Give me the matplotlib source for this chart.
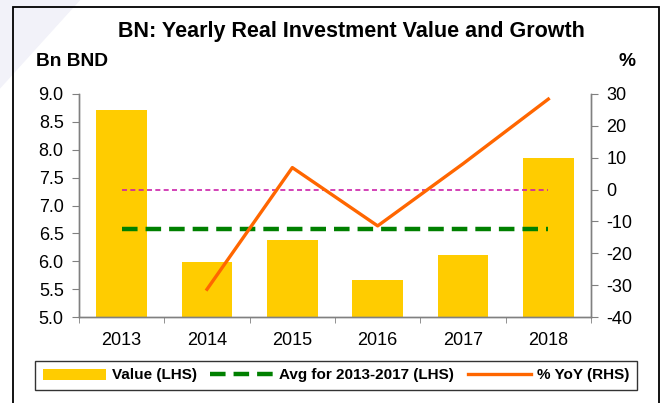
import matplotlib
matplotlib.use("Agg")
import matplotlib.pyplot as plt
from matplotlib.patches import Rectangle, Polygon
import numpy as np

plt.rcParams['font.family'] = ['Liberation Sans', 'DejaVu Sans']
plt.rcParams['axes.unicode_minus'] = False

years = ['2013', '2014', '2015', '2016', '2017', '2018']
value_bn = [8.71, 5.98, 6.39, 5.66, 6.12, 7.86]
yoy_years = ['2014', '2015', '2016', '2017', '2018']
yoy_pct = [-31.3, 6.9, -11.4, 8.1, 28.4]
avg_2013_2017 = 6.57

fig = plt.figure(figsize=(6.69, 4.03), dpi=100)

# faint watermark swoosh top-left
fig.patches.append(Polygon([(0, 1), (0.12, 1), (0, 0.78)], closed=True,
                           transform=fig.transFigure, facecolor='#f2f2f9',
                           edgecolor='none', zorder=-5))
# outer frame
fig.patches.append(Rectangle((13 / 669, -0.05), 646 / 669, 1 - 7 / 403 + 0.05,
                             transform=fig.transFigure, fill=False,
                             edgecolor='black', linewidth=1.3, zorder=0))

ax = fig.add_axes([79 / 669, 1 - 317 / 403, 512 / 669, 223 / 403])
x = np.arange(len(years))
bars = ax.bar(x, value_bn, width=0.59, color='#FFCC00', label='Value (LHS)', zorder=2)
avg_line, = ax.plot([x[0], x[-1]], [avg_2013_2017] * 2, color='#008000', linewidth=3.2,
                    dashes=(3.5, 1.8), label='Avg for 2013-2017 (LHS)', zorder=3)
ax.set_xlim(-0.5, len(years) - 0.5)
ax.set_ylim(5.0, 9.0)
ax.set_yticks(np.arange(5.0, 9.01, 0.5))
ax.set_yticklabels([f"{v:.1f}" for v in np.arange(5.0, 9.01, 0.5)])
ax.set_xticks(x)
ax.set_xticklabels(years)
ax.set_xticks(np.arange(-0.5, len(years)), minor=True)
ax.tick_params(axis='x', which='major', length=0, pad=11, labelsize=13)
ax.tick_params(axis='x', which='minor', length=4, direction='out', color='#808080')
ax.tick_params(axis='y', length=5, direction='out', color='#808080', pad=6, labelsize=13)

ax2 = ax.twinx()
xi = [years.index(y) for y in yoy_years]
ax2.plot([x[0], x[-1]], [0, 0], color='#CC22AA', linewidth=1.2, dashes=(3, 2), zorder=3)
yoy_line, = ax2.plot(xi, yoy_pct, color='#FF6600', linewidth=2.4, label='% YoY (RHS)', zorder=4)
ax2.set_ylim(-40, 30)
ax2.set_yticks(range(-40, 31, 10))
ax2.tick_params(axis='y', length=5, direction='out', color='#808080', pad=6, labelsize=13)

for a in (ax, ax2):
    a.spines['top'].set_visible(False)
    for s in ('left', 'right', 'bottom'):
        a.spines[s].set_color('#808080')
        a.spines[s].set_linewidth(1.0)

fig.text(351 / 669, 1 - 32 / 403, 'BN: Yearly Real Investment Value and Growth',
         ha='center', va='center', fontsize=15.5, fontweight='bold')
fig.text(36 / 669, 1 - 62 / 403, 'Bn BND', ha='left', va='center',
         fontsize=13.8, fontweight='bold')
fig.text(627 / 669, 1 - 62 / 403, '%', ha='center', va='center',
         fontsize=13.8, fontweight='bold')

leg = fig.legend([bars, avg_line, yoy_line],
                 ['Value (LHS)', 'Avg for 2013-2017 (LHS)', '% YoY (RHS)'],
                 loc='center', bbox_to_anchor=(336 / 669, 1 - 375.5 / 403), ncol=3,
                 prop={'weight': 'bold', 'size': 11}, frameon=True, fancybox=False,
                 edgecolor='black', handlelength=4.1, handletextpad=0.4,
                 columnspacing=0.9, borderpad=0.5)
leg.get_frame().set_linewidth(1.0)

fig.savefig('out.png', dpi=100)
